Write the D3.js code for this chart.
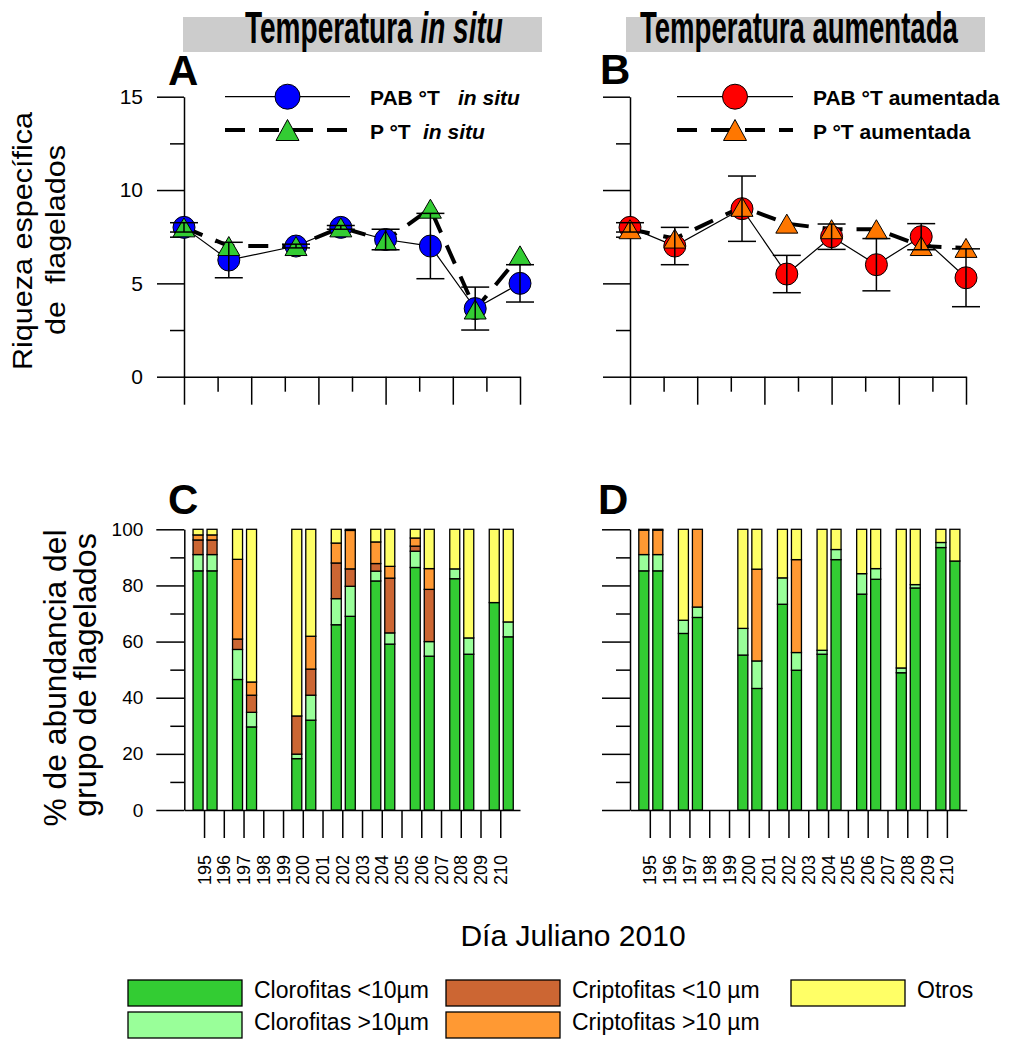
<!DOCTYPE html>
<html>
<head>
<meta charset="utf-8">
<script src="https://cdn.jsdelivr.net/npm/d3@7"></script>
<style>
  body { margin: 0; background: #fff; }
  text { font-family: Arial, "Liberation Sans", sans-serif; fill: #000; }
</style>
</head>
<body>
<div id="chart"></div>
<script>
// dias de muestreo
const dias = [195, 197, 200, 202, 204, 206, 208, 210]
const diasEje = d3.range(195, 211)

// riqueza especifica - temperatura in situ (A)
const pabInSitu = [8.0, 6.25, 7.0, 8.0, 7.35, 7.0, 3.65, 5.0]
const pabInSituErr = [0.25, 0.95, 0.1, 0.1, 0.55, 1.75, 1.15, 1.0]
const pInSitu = [8.0, 7.0, 7.0, 8.0, 7.3, 9.0, 3.6, 6.5]
const pInSituErr = [0, 0, 0, 0, 0, 0, 0, 0]

// riqueza especifica - temperatura aumentada (B)
const pabAum = [8.0, 7.0, 9.0, 5.5, 7.5, 6.0, 7.5, 5.3]
const pabAumErr = [0.25, 1.0, 1.75, 1.0, 0.68, 1.4, 0.7, 1.55]
const pAum = [7.9, 7.4, 9.1, 8.2, 7.9, 7.9, 7.0, 6.9]
const pAumErr = [0, 0, 0, 0, 0, 0, 0, 0]

// % abundancia por grupo, dos replicas por dia (C, in situ)
const clorMenorC = [85.2, 85.2, 46.5, 29.6, 18.3, 32.0, 66.0, 69.0, 81.6, 59.1, 86.4, 54.8, 82.4, 55.5, 73.9, 61.7]
const clorMayorC = [5.8, 5.8, 10.7, 5.2, 1.6, 8.9, 9.3, 10.7, 3.5, 4.0, 5.8, 5.2, 3.5, 5.8, 0, 5.3]
const criptMenorC = [5.2, 5.2, 3.7, 6.1, 13.6, 9.3, 12.7, 6.2, 2.7, 19.5, 1.8, 18.6, 0, 0, 0, 0]
const criptMayorC = [1.8, 1.8, 28.4, 4.7, 0, 11.7, 7.1, 13.7, 7.7, 4.2, 2.9, 7.4, 0, 0, 0, 0]
const otrosC = [2.0, 2.0, 10.7, 54.4, 66.5, 38.1, 4.9, 0.4, 4.5, 13.2, 3.1, 14.0, 14.1, 38.7, 26.1, 33.0]

// (D, temperatura aumentada)
const clorMenorD = [85.2, 85.2, 62.9, 68.6, 55.2, 43.3, 73.3, 49.8, 55.5, 89.2, 76.9, 82.2, 48.9, 79.1, 93.5, 88.7]
const clorMayorD = [5.8, 5.8, 4.7, 3.7, 9.5, 9.8, 9.4, 6.3, 1.4, 3.6, 7.3, 3.8, 1.7, 1.2, 1.8, 0]
const criptMenorD = [0, 0, 0, 0, 0, 0, 0, 0, 0, 0, 0, 0, 0, 0, 0, 0]
const criptMayorD = [8.7, 8.7, 0, 27.7, 0, 32.7, 0, 33.1, 0, 0, 0, 0, 0, 0, 0, 0]
const otrosD = [0.3, 0.3, 32.4, 0, 35.3, 14.2, 17.3, 10.8, 43.1, 7.2, 15.8, 14.0, 49.4, 19.7, 4.7, 11.3]

const grupos = ["clorMenor", "clorMayor", "criptMenor", "criptMayor", "otros"]
const nombresGrupos = ["Clorofitas <10µm", "Clorofitas >10µm", "Criptofitas <10 µm", "Criptofitas >10 µm", "Otros"]
const colorGrupo = d3.scaleOrdinal()
  .domain(grupos)
  .range(["#33cc33", "#99ff99", "#cc6633", "#ff9933", "#ffff66"])

function tabla(cm, cM, km, kM, ot) {
  return cm.map((v, i) => ({
    dia: dias[Math.floor(i / 2)],
    rep: i % 2 ? "b" : "a",
    clorMenor: v, clorMayor: cM[i], criptMenor: km[i], criptMayor: kM[i], otros: ot[i]
  }))
}

const svg = d3.select("#chart").append("svg")
  .attr("width", 1015)
  .attr("height", 1039)

// ---------- titulos ----------
function titulo(x0, w, texto, cursiva) {
  svg.append("rect")
    .attr("x", x0).attr("y", 17).attr("width", w).attr("height", 35)
    .attr("fill", "#cccccc")
}
titulo(183, 359)
titulo(626, 359)

function textoAjustado(x, y, ancho, partes) {
  const t = svg.append("text")
    .attr("font-size", 44)
    .attr("font-weight", "bold")
  partes.forEach(p => t.append("tspan").attr("font-style", p[1] ? "italic" : "normal").text(p[0]))
  const w = t.node().getComputedTextLength()
  t.attr("transform", `translate(${x},${y}) scale(${ancho / w},1)`)
}
textoAjustado(245, 43, 258, [["Temperatura ", false], ["in situ", true]])
textoAjustado(640, 43, 318, [["Temperatura aumentada", false]])

// letras de panel
const letras = [["A", 168, 85], ["B", 600, 84], ["C", 168, 514], ["D", 598, 514]]
svg.selectAll(".letra").data(letras).enter().append("text")
  .attr("class", "letra")
  .attr("x", d => d[0] === "A" || d[0] === "C" ? d[1] : d[1])
  .attr("y", d => d[2])
  .attr("font-size", 42)
  .attr("font-weight", "bold")
  .text(d => d[0])

// ---------- ejes ----------
function estiloEje(g) {
  g.selectAll("path, line").attr("stroke", "#000").attr("stroke-width", 1.5)
  g.selectAll("text").attr("font-family", "Arial, 'Liberation Sans', sans-serif").attr("fill", "#000")
}

const yRiq = d3.scaleLinear().domain([0, 15]).range([376.7, 96.7])
const xA = d3.scaleLinear().domain([195, 210]).range([184, 520])
const xB = d3.scaleLinear().domain([195, 210]).range([630, 966])

function ejesRiqueza(x, etiquetas) {
  const x0 = x.range()[0]
  const gy = svg.append("g").attr("transform", `translate(${x0},0)`)
    .call(d3.axisLeft(yRiq).tickValues([0, 5, 10, 15]).tickSize(27).tickSizeOuter(0)
      .tickPadding(14).tickFormat(etiquetas ? d3.format("d") : ""))
  gy.selectAll("text").attr("font-size", 21)
  estiloEje(gy)
  const gym = svg.append("g").attr("transform", `translate(${x0},0)`)
    .call(d3.axisLeft(yRiq).tickValues([2.5, 7.5, 12.5]).tickSize(14).tickFormat(""))
  gym.select(".domain").remove()
  estiloEje(gym)

  const marcas = d3.range(11).map(i => 195 + 1.5 * i)
  const gx = svg.append("g").attr("transform", `translate(0,${yRiq(0)})`)
    .call(d3.axisBottom(x).tickValues(marcas.filter((d, i) => i % 2 === 0)).tickSize(28).tickSizeOuter(0).tickFormat(""))
  estiloEje(gx)
  const gxm = svg.append("g").attr("transform", `translate(0,${yRiq(0)})`)
    .call(d3.axisBottom(x).tickValues(marcas.filter((d, i) => i % 2 === 1)).tickSize(15).tickFormat(""))
  gxm.select(".domain").remove()
  estiloEje(gxm)
}

function triangulo(w, h) {
  return `M0,${-h / 2}L${w / 2},${h / 2}L${-w / 2},${h / 2}Z`
}

function panelRiqueza(x, pab, pabErr, p, pErr, colorCirc, colorTri) {
  const g = svg.append("g")
  const linea = d3.line().x((d, i) => x(dias[i])).y(d => yRiq(d))

  g.append("path").datum(pab)
    .attr("d", linea).attr("fill", "none").attr("stroke", "#000").attr("stroke-width", 1.2)
  g.append("path").datum(p)
    .attr("d", linea).attr("fill", "none").attr("stroke", "#000")
    .attr("stroke-width", 4).attr("stroke-dasharray", "20,14")

  g.selectAll(".circ").data(pab).enter().append("circle")
    .attr("class", "circ")
    .attr("cx", (d, i) => x(dias[i]))
    .attr("cy", d => yRiq(d))
    .attr("r", 11)
    .attr("fill", colorCirc).attr("stroke", "#000").attr("stroke-width", 1)

  g.selectAll(".tri").data(p).enter().append("path")
    .attr("class", "tri")
    .attr("transform", (d, i) => `translate(${x(dias[i])},${yRiq(d)})`)
    .attr("d", triangulo(22, 19))
    .attr("fill", colorTri).attr("stroke", "#000").attr("stroke-width", 1)

  const errores = []
  pab.forEach((v, i) => { if (pabErr[i] > 0) errores.push({ dia: dias[i], v: v, e: pabErr[i] }) })
  p.forEach((v, i) => { if (pErr[i] > 0) errores.push({ dia: dias[i], v: v, e: pErr[i] }) })
  const eb = g.selectAll(".err").data(errores).enter().append("g").attr("class", "err")
    .attr("stroke", "#000").attr("stroke-width", 1.5)
  eb.append("line")
    .attr("x1", d => x(d.dia)).attr("x2", d => x(d.dia))
    .attr("y1", d => yRiq(d.v - d.e)).attr("y2", d => yRiq(d.v + d.e))
  eb.append("line")
    .attr("x1", d => x(d.dia) - 14).attr("x2", d => x(d.dia) + 14)
    .attr("y1", d => yRiq(d.v - d.e)).attr("y2", d => yRiq(d.v - d.e))
  eb.append("line")
    .attr("x1", d => x(d.dia) - 14).attr("x2", d => x(d.dia) + 14)
    .attr("y1", d => yRiq(d.v + d.e)).attr("y2", d => yRiq(d.v + d.e))
}

ejesRiqueza(xA, true)
ejesRiqueza(xB, false)
panelRiqueza(xA, pabInSitu, pabInSituErr, pInSitu, pInSituErr, "#0000ff", "#33cc33")
panelRiqueza(xB, pabAum, pabAumErr, pAum, pAumErr, "#ff0000", "#ff7700")

// leyendas de A y B
function leyendaRiqueza(x1, x2, xt, colorCirc, colorTri, fila1, fila2) {
  const xc = (x1 + x2) / 2
  svg.append("line").attr("x1", x1).attr("x2", x2).attr("y1", 96.7).attr("y2", 96.7)
    .attr("stroke", "#000").attr("stroke-width", 1.2)
  svg.append("circle").attr("cx", xc).attr("cy", 96.7).attr("r", 12.5)
    .attr("fill", colorCirc).attr("stroke", "#000")
  svg.append("line").attr("x1", x1).attr("x2", x2).attr("y1", 130).attr("y2", 130)
    .attr("stroke", "#000").attr("stroke-width", 4).attr("stroke-dasharray", "20,14")
  svg.append("path").attr("transform", `translate(${xc},130)`).attr("d", triangulo(23, 21))
    .attr("fill", colorTri).attr("stroke", "#000")
  ;[[fila1, 105], [fila2, 139]].forEach(f => {
    const t = svg.append("text").attr("x", xt).attr("y", f[1])
      .attr("font-size", 21).attr("font-weight", "bold")
    f[0].forEach(parte => {
      const ts = t.append("tspan").text(parte.t)
      if (parte.x) ts.attr("x", parte.x)
      if (parte.it) ts.attr("font-style", "italic")
    })
  })
}
leyendaRiqueza(225, 350, 370, "#0000ff", "#33cc33",
  [{ t: "PAB °T" }, { t: "in situ", it: true, x: 458 }],
  [{ t: "P °T" }, { t: "in situ", it: true, x: 423 }])
leyendaRiqueza(677, 793, 813, "#ff0000", "#ff7700",
  [{ t: "PAB °T aumentada" }],
  [{ t: "P °T aumentada" }])

// titulos de eje y
function tituloVertical(xb, yc, largo, fs, texto) {
  svg.append("text")
    .attr("transform", `translate(${xb},${yc}) rotate(-90)`)
    .attr("text-anchor", "middle")
    .attr("font-size", fs)
    .attr("textLength", largo)
    .attr("lengthAdjust", "spacingAndGlyphs")
    .style("white-space", "pre")
    .text(texto)
}
tituloVertical(32, 241, 258, 28, "Riqueza específica")
tituloVertical(65, 240, 190, 28, "de  flagelados")
tituloVertical(66, 678, 297, 31, "% de abundancia del")
tituloVertical(96, 675, 284, 31, "grupo de flagelados")

// ---------- barras ----------
const yAb = d3.scaleLinear().domain([0, 100]).range([810, 529.3])
const xC = d3.scaleLinear().domain([194, 211]).range([184.3, 520])
const xD = d3.scaleLinear().domain([194, 211]).range([630, 966.7])
const rep = d3.scaleBand().domain(["a", "b"]).range([-11, 13]).paddingInner(0.2857)
const pila = d3.stack().keys(grupos)

function panelBarras(x, datos, etiquetas) {
  const x0 = x.range()[0]
  const gy = svg.append("g").attr("transform", `translate(${x0},0)`)
    .call(d3.axisLeft(yAb).tickValues(d3.range(0, 101, 20)).tickSize(28).tickSizeOuter(0)
      .tickPadding(13).tickFormat(etiquetas ? d3.format("d") : ""))
  gy.selectAll("text").attr("font-size", 19)
  estiloEje(gy)
  const gym = svg.append("g").attr("transform", `translate(${x0},0)`)
    .call(d3.axisLeft(yAb).tickValues(d3.range(10, 100, 20)).tickSize(14).tickFormat(""))
  gym.select(".domain").remove()
  estiloEje(gym)

  const gx = svg.append("g").attr("transform", `translate(0,${yAb(0)})`)
    .call(d3.axisBottom(x).tickValues(diasEje).tickSize(28).tickSizeOuter(0).tickFormat(d3.format("d")))
  gx.selectAll("text")
    .attr("font-size", 18)
    .attr("transform", "rotate(-90)")
    .attr("text-anchor", "start")
    .attr("x", -75)
    .attr("y", 6)
    .attr("dy", 0)
  estiloEje(gx)

  const series = pila(datos)
  const capas = svg.append("g").selectAll("g").data(series).enter().append("g")
    .attr("fill", d => colorGrupo(d.key))
  capas.selectAll("rect")
    .data(d => d.filter(s => s[1] - s[0] > 0))
    .enter().append("rect")
    .attr("x", d => x(d.data.dia) + rep(d.data.rep))
    .attr("width", rep.bandwidth())
    .attr("y", d => yAb(d[1]))
    .attr("height", d => yAb(d[0]) - yAb(d[1]))
    .attr("stroke", "#000")
    .attr("stroke-width", 1.3)
}

panelBarras(xC, tabla(clorMenorC, clorMayorC, criptMenorC, criptMayorC, otrosC), true)
panelBarras(xD, tabla(clorMenorD, clorMayorD, criptMenorD, criptMayorD, otrosD), false)

svg.append("text")
  .attr("x", 573).attr("y", 946)
  .attr("text-anchor", "middle")
  .attr("font-size", 30)
  .text("Día Juliano 2010")

// leyenda inferior
const posLeyenda = [[128, 980], [128, 1012], [446, 980], [446, 1012], [791, 980]]
const ley = svg.selectAll(".ley").data(grupos).enter().append("g").attr("class", "ley")
  .attr("transform", (d, i) => `translate(${posLeyenda[i][0]},${posLeyenda[i][1]})`)
ley.append("rect")
  .attr("width", 114).attr("height", 26)
  .attr("fill", d => colorGrupo(d))
  .attr("stroke", "#000").attr("stroke-width", 1.3)
ley.append("text")
  .attr("x", 126).attr("y", 18)
  .attr("font-size", 23)
  .text((d, i) => nombresGrupos[i])
</script>
</body>
</html>
